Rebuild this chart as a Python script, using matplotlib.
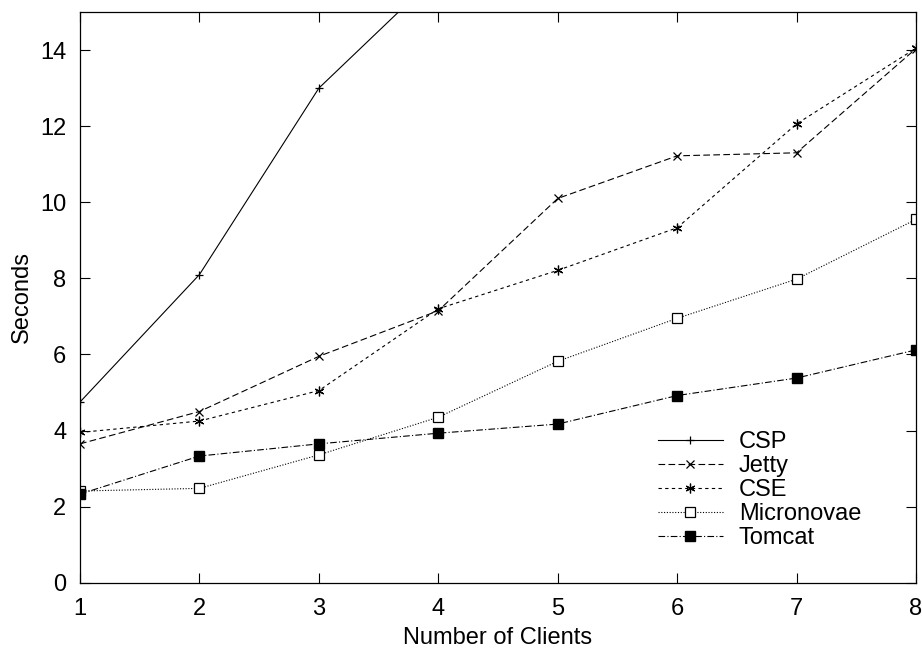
import matplotlib
matplotlib.use("Agg")
import matplotlib.pyplot as plt

plt.rcParams['font.family'] = ['Liberation Sans', 'DejaVu Sans']

clients = [1, 2, 3, 4, 5, 6, 7, 8]

# CSP leaves the plot after 3 clients
csp_x = [1, 2, 3, 4]
csp = [4.75, 8.1, 13.0, 16.0]
jetty = [3.65, 4.5, 5.95, 7.15, 10.1, 11.22, 11.3, 14.04]
cse = [3.95, 4.25, 5.05, 7.2, 8.21, 9.33, 12.06, 14.05]
micronovae = [2.41, 2.48, 3.36, 4.35, 5.82, 6.95, 7.98, 9.55]
tomcat = [2.33, 3.33, 3.65, 3.93, 4.17, 4.92, 5.38, 6.12]

fig = plt.figure(figsize=(9.22, 6.5), dpi=100)
ax = fig.add_axes([0.0868, 0.1035, 0.9067, 0.878])

lw = 0.8
ax.plot(csp_x, csp, color='black', lw=lw, ls='-', marker='+', ms=6, mew=0.9, label='CSP')
ax.plot(clients, jetty, color='black', lw=lw, ls=(0, (6, 3)), marker='x', ms=6, mew=0.9, label='Jetty')
ax.plot(clients, cse, color='black', lw=lw, ls=(0, (3, 3)), marker=(6, 2, 0), ms=7, mew=0.9, label='CSE')
ax.plot(clients, micronovae, color='black', lw=lw, ls=(0, (1, 1.5)), marker='s', ms=6.5,
        mfc='white', mec='black', mew=0.9, label='Micronovae')
ax.plot(clients, tomcat, color='black', lw=lw, ls=(0, (6, 2, 1, 2)), marker='s', ms=6.5,
        mfc='black', mec='black', label='Tomcat')

ax.set_xlim(1, 8)
ax.set_ylim(0, 15)
ax.set_xticks(clients)
ax.set_yticks([0, 2, 4, 6, 8, 10, 12, 14])
ax.tick_params(direction='in', length=7, width=0.8, top=True, right=True, labelsize=17)
ax.tick_params(axis='x', pad=11)
ax.tick_params(axis='y', pad=10)
for s in ax.spines.values():
    s.set_linewidth(0.9)

ax.set_xlabel('Number of Clients', fontsize=17, labelpad=5)
ax.set_ylabel('Seconds', fontsize=17, labelpad=5)

leg = ax.legend(loc='upper left', bbox_to_anchor=(0.691, 0.265), frameon=False,
                fontsize=17, handlelength=2.75, handletextpad=0.68, labelspacing=0.08,
                borderpad=0, borderaxespad=0)

fig.savefig('out.png', dpi=100)
